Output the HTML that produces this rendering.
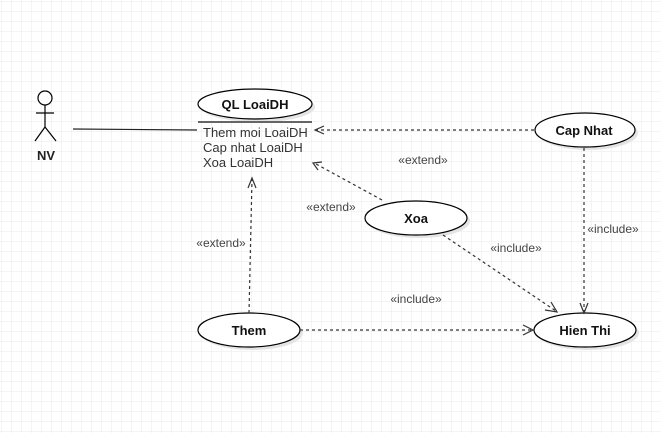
<!DOCTYPE html>
<html><head><meta charset="utf-8"><style>
html,body{margin:0;padding:0;background:#fff}
svg{display:block}
text{font-family:"Liberation Sans",Arial,sans-serif}
</style></head><body>
<svg width="661" height="433" xmlns="http://www.w3.org/2000/svg">
<defs>
<pattern id="g" width="10" height="10" patternUnits="userSpaceOnUse" x="1" y="1">
<path d="M10 0H0V10" fill="none" stroke="#e8e8e8" stroke-width="1"/>
</pattern>
</defs>
<rect width="661" height="433" fill="url(#g)"/>
<!-- actor -->
<g stroke="#000" stroke-width="1.2" fill="none">
<circle cx="45" cy="98" r="7" fill="#fff"/>
<line x1="45" y1="105" x2="45" y2="127"/>
<line x1="36" y1="113" x2="54" y2="113"/>
<line x1="45" y1="127" x2="35" y2="141"/>
<line x1="45" y1="127" x2="56" y2="141"/>
</g>
<text x="46" y="160" font-size="13" font-weight="bold" text-anchor="middle" fill="#222">NV</text>
<line x1="73" y1="129" x2="197" y2="130" stroke="#222" stroke-width="1.2"/>
<!-- ellipses shadows -->
<g fill="#e4e4e4">
<ellipse cx="258" cy="107" rx="57" ry="15"/>
<ellipse cx="588" cy="133" rx="50" ry="17"/>
<ellipse cx="419" cy="221" rx="51" ry="17"/>
<ellipse cx="252" cy="333" rx="51" ry="17"/>
<ellipse cx="588" cy="333" rx="51" ry="17"/>
</g>
<g fill="#fff" stroke="#000" stroke-width="1.2">
<ellipse cx="255" cy="104" rx="57" ry="15"/>
<ellipse cx="585" cy="130" rx="50" ry="17"/>
<ellipse cx="416" cy="218" rx="51" ry="17"/>
<ellipse cx="249" cy="330" rx="51" ry="17"/>
<ellipse cx="585" cy="330" rx="51" ry="17"/>
</g>
<line x1="198" y1="122" x2="312" y2="122" stroke="#666" stroke-width="2"/>
<g font-size="13" font-weight="bold" text-anchor="middle" fill="#111">
<text x="255" y="109">QL LoaiDH</text>
<text x="584" y="135">Cap Nhat</text>
<text x="416" y="223">Xoa</text>
<text x="249" y="335">Them</text>
<text x="585" y="335">Hien Thi</text>
</g>
<g font-size="13" fill="#333">
<text x="203" y="137">Them moi LoaiDH</text>
<text x="203" y="152">Cap nhat LoaiDH</text>
<text x="203" y="167">Xoa LoaiDH</text>
</g>
<!-- connectors -->
<g stroke="#333" stroke-width="1.2" fill="none" stroke-dasharray="3,3">
<line x1="534" y1="130" x2="316" y2="130"/>
<line x1="382" y1="200" x2="316" y2="164"/>
<line x1="249" y1="313" x2="252" y2="179"/>
<line x1="300" y1="330" x2="532" y2="330"/>
<line x1="443" y1="235" x2="556" y2="311"/>
<line x1="584" y1="148" x2="584" y2="311"/>
</g>
<g stroke="#333" stroke-width="1.2" fill="none">
<polyline points="324,126 315,130 324,134"/>
<polyline points="322,162 313,163 318,170"/>
<polyline points="248,188 252,178 256,188"/>
<polyline points="523,325 533,330 523,335"/>
<polyline points="545,310 557,312 551,302"/>
<polyline points="580,303 584,313 588,303"/>
</g>
<g font-size="12" fill="#444" text-anchor="middle">
<text x="423" y="164">«extend»</text>
<text x="331" y="211">«extend»</text>
<text x="221" y="247">«extend»</text>
<text x="516" y="252">«include»</text>
<text x="613" y="233">«include»</text>
<text x="416" y="303">«include»</text>
</g>
</svg>
</body></html>
